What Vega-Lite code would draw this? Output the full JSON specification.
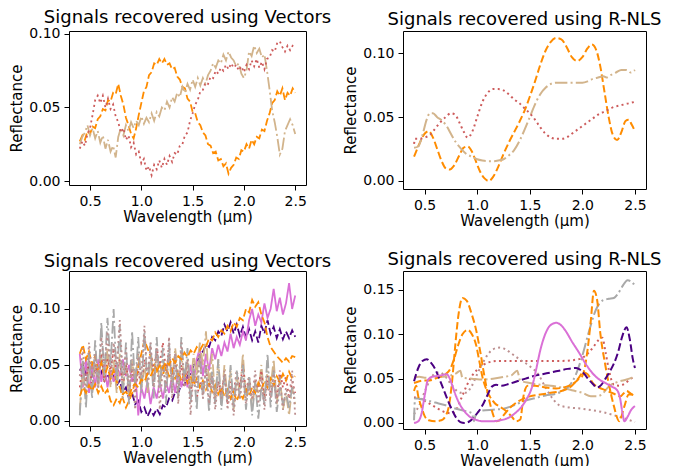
{
"$schema": "https://vega.github.io/schema/vega-lite/v6.json",
"padding": {"left": 9, "top": 8, "right": 5, "bottom": 5},
"columns": 2,
"spacing": {"row": 82, "column": 97},
"bounds": "flush",
"resolve": {"scale": {"x": "independent", "y": "independent", "color": "independent", "strokeDash": "independent"}},
"config": {
  "view": {"stroke": "black", "strokeWidth": 1},
  "font": "DejaVu Sans",
  "axis": {"domain": false, "grid": false, "tickColor": "black", "tickSize": 5, "tickWidth": 1, "labelFont": "DejaVu Sans", "labelFontSize": 14, "labelColor": "black", "labelPadding": 4, "labelFlush": false, "labelOverlap": false, "titleFont": "DejaVu Sans", "titleFontSize": 15, "titleFontWeight": "normal", "titleColor": "black"},
  "axisX": {"titlePadding": 1},
  "axisY": {"titlePadding": 4},
  "title": {"font": "DejaVu Sans", "fontSize": 18, "fontWeight": "normal", "color": "black", "anchor": "middle", "baseline": "alphabetic"}
},
"datasets": {
"tl": [
{"s":"o","x":0.4,"y":0.027},{"s":"o","x":0.425,"y":0.031},{"s":"o","x":0.45,"y":0.028},{"s":"o","x":0.475,"y":0.034},{"s":"o","x":0.5,"y":0.032},{"s":"o","x":0.525,"y":0.037},{"s":"o","x":0.55,"y":0.036},{"s":"o","x":0.575,"y":0.042},{"s":"o","x":0.6,"y":0.044},{"s":"o","x":0.625,"y":0.049},{"s":"o","x":0.65,"y":0.048},{"s":"o","x":0.675,"y":0.055},{"s":"o","x":0.7,"y":0.054},{"s":"o","x":0.725,"y":0.06},{"s":"o","x":0.75,"y":0.059},{"s":"o","x":0.775,"y":0.066},{"s":"o","x":0.8,"y":0.058},{"s":"o","x":0.825,"y":0.052},{"s":"o","x":0.85,"y":0.043},{"s":"o","x":0.875,"y":0.038},{"s":"o","x":0.9,"y":0.032},{"s":"o","x":0.925,"y":0.029},{"s":"o","x":0.95,"y":0.036},{"s":"o","x":0.975,"y":0.045},{"s":"o","x":1.0,"y":0.053},{"s":"o","x":1.025,"y":0.061},{"s":"o","x":1.05,"y":0.064},{"s":"o","x":1.075,"y":0.072},{"s":"o","x":1.1,"y":0.074},{"s":"o","x":1.125,"y":0.08},{"s":"o","x":1.15,"y":0.079},{"s":"o","x":1.175,"y":0.083},{"s":"o","x":1.2,"y":0.08},{"s":"o","x":1.225,"y":0.083},{"s":"o","x":1.25,"y":0.079},{"s":"o","x":1.275,"y":0.08},{"s":"o","x":1.3,"y":0.076},{"s":"o","x":1.325,"y":0.077},{"s":"o","x":1.35,"y":0.071},{"s":"o","x":1.375,"y":0.069},{"s":"o","x":1.4,"y":0.064},{"s":"o","x":1.425,"y":0.063},{"s":"o","x":1.45,"y":0.056},{"s":"o","x":1.475,"y":0.054},{"s":"o","x":1.5,"y":0.047},{"s":"o","x":1.525,"y":0.046},{"s":"o","x":1.55,"y":0.04},{"s":"o","x":1.575,"y":0.038},{"s":"o","x":1.6,"y":0.033},{"s":"o","x":1.625,"y":0.031},{"s":"o","x":1.65,"y":0.025},{"s":"o","x":1.675,"y":0.024},{"s":"o","x":1.7,"y":0.019},{"s":"o","x":1.725,"y":0.02},{"s":"o","x":1.75,"y":0.014},{"s":"o","x":1.775,"y":0.015},{"s":"o","x":1.8,"y":0.01},{"s":"o","x":1.825,"y":0.012},{"s":"o","x":1.85,"y":0.005},{"s":"o","x":1.875,"y":0.009},{"s":"o","x":1.9,"y":0.011},{"s":"o","x":1.925,"y":0.016},{"s":"o","x":1.95,"y":0.015},{"s":"o","x":1.975,"y":0.021},{"s":"o","x":2.0,"y":0.02},{"s":"o","x":2.025,"y":0.025},{"s":"o","x":2.05,"y":0.022},{"s":"o","x":2.075,"y":0.028},{"s":"o","x":2.1,"y":0.025},{"s":"o","x":2.125,"y":0.03},{"s":"o","x":2.15,"y":0.029},{"s":"o","x":2.175,"y":0.035},{"s":"o","x":2.2,"y":0.034},{"s":"o","x":2.225,"y":0.041},{"s":"o","x":2.25,"y":0.046},{"s":"o","x":2.275,"y":0.053},{"s":"o","x":2.3,"y":0.055},{"s":"o","x":2.325,"y":0.061},{"s":"o","x":2.35,"y":0.058},{"s":"o","x":2.375,"y":0.063},{"s":"o","x":2.4,"y":0.055},{"s":"o","x":2.425,"y":0.06},{"s":"o","x":2.45,"y":0.058},{"s":"o","x":2.475,"y":0.063},{"s":"o","x":2.5,"y":0.06},
{"s":"t","x":0.4,"y":0.025},{"s":"t","x":0.425,"y":0.03},{"s":"t","x":0.45,"y":0.033},{"s":"t","x":0.475,"y":0.038},{"s":"t","x":0.5,"y":0.031},{"s":"t","x":0.525,"y":0.036},{"s":"t","x":0.55,"y":0.029},{"s":"t","x":0.575,"y":0.034},{"s":"t","x":0.6,"y":0.026},{"s":"t","x":0.625,"y":0.031},{"s":"t","x":0.65,"y":0.022},{"s":"t","x":0.675,"y":0.028},{"s":"t","x":0.7,"y":0.02},{"s":"t","x":0.725,"y":0.024},{"s":"t","x":0.75,"y":0.016},{"s":"t","x":0.775,"y":0.03},{"s":"t","x":0.8,"y":0.036},{"s":"t","x":0.825,"y":0.031},{"s":"t","x":0.85,"y":0.038},{"s":"t","x":0.875,"y":0.034},{"s":"t","x":0.9,"y":0.04},{"s":"t","x":0.925,"y":0.036},{"s":"t","x":0.95,"y":0.041},{"s":"t","x":0.975,"y":0.038},{"s":"t","x":1.0,"y":0.044},{"s":"t","x":1.025,"y":0.039},{"s":"t","x":1.05,"y":0.043},{"s":"t","x":1.075,"y":0.04},{"s":"t","x":1.1,"y":0.046},{"s":"t","x":1.125,"y":0.041},{"s":"t","x":1.15,"y":0.047},{"s":"t","x":1.175,"y":0.044},{"s":"t","x":1.2,"y":0.05},{"s":"t","x":1.225,"y":0.048},{"s":"t","x":1.25,"y":0.054},{"s":"t","x":1.275,"y":0.05},{"s":"t","x":1.3,"y":0.057},{"s":"t","x":1.325,"y":0.054},{"s":"t","x":1.35,"y":0.06},{"s":"t","x":1.375,"y":0.057},{"s":"t","x":1.4,"y":0.064},{"s":"t","x":1.425,"y":0.06},{"s":"t","x":1.45,"y":0.066},{"s":"t","x":1.475,"y":0.062},{"s":"t","x":1.5,"y":0.069},{"s":"t","x":1.525,"y":0.064},{"s":"t","x":1.55,"y":0.07},{"s":"t","x":1.575,"y":0.065},{"s":"t","x":1.6,"y":0.07},{"s":"t","x":1.625,"y":0.066},{"s":"t","x":1.65,"y":0.072},{"s":"t","x":1.675,"y":0.075},{"s":"t","x":1.7,"y":0.08},{"s":"t","x":1.725,"y":0.077},{"s":"t","x":1.75,"y":0.082},{"s":"t","x":1.775,"y":0.08},{"s":"t","x":1.8,"y":0.086},{"s":"t","x":1.825,"y":0.082},{"s":"t","x":1.85,"y":0.088},{"s":"t","x":1.875,"y":0.084},{"s":"t","x":1.9,"y":0.082},{"s":"t","x":1.925,"y":0.078},{"s":"t","x":1.95,"y":0.08},{"s":"t","x":1.975,"y":0.073},{"s":"t","x":2.0,"y":0.07},{"s":"t","x":2.025,"y":0.075},{"s":"t","x":2.05,"y":0.088},{"s":"t","x":2.075,"y":0.085},{"s":"t","x":2.1,"y":0.092},{"s":"t","x":2.125,"y":0.087},{"s":"t","x":2.15,"y":0.09},{"s":"t","x":2.175,"y":0.084},{"s":"t","x":2.2,"y":0.086},{"s":"t","x":2.225,"y":0.075},{"s":"t","x":2.25,"y":0.062},{"s":"t","x":2.275,"y":0.048},{"s":"t","x":2.3,"y":0.04},{"s":"t","x":2.325,"y":0.03},{"s":"t","x":2.35,"y":0.018},{"s":"t","x":2.375,"y":0.022},{"s":"t","x":2.4,"y":0.034},{"s":"t","x":2.425,"y":0.038},{"s":"t","x":2.45,"y":0.042},{"s":"t","x":2.475,"y":0.038},{"s":"t","x":2.5,"y":0.032},
{"s":"r","x":0.4,"y":0.022},{"s":"r","x":0.425,"y":0.027},{"s":"r","x":0.45,"y":0.024},{"s":"r","x":0.475,"y":0.032},{"s":"r","x":0.5,"y":0.036},{"s":"r","x":0.525,"y":0.045},{"s":"r","x":0.55,"y":0.055},{"s":"r","x":0.575,"y":0.058},{"s":"r","x":0.6,"y":0.053},{"s":"r","x":0.625,"y":0.058},{"s":"r","x":0.65,"y":0.05},{"s":"r","x":0.675,"y":0.056},{"s":"r","x":0.7,"y":0.049},{"s":"r","x":0.725,"y":0.052},{"s":"r","x":0.75,"y":0.044},{"s":"r","x":0.775,"y":0.04},{"s":"r","x":0.8,"y":0.033},{"s":"r","x":0.825,"y":0.036},{"s":"r","x":0.85,"y":0.028},{"s":"r","x":0.875,"y":0.031},{"s":"r","x":0.9,"y":0.023},{"s":"r","x":0.925,"y":0.026},{"s":"r","x":0.95,"y":0.018},{"s":"r","x":0.975,"y":0.02},{"s":"r","x":1.0,"y":0.012},{"s":"r","x":1.025,"y":0.015},{"s":"r","x":1.05,"y":0.007},{"s":"r","x":1.075,"y":0.01},{"s":"r","x":1.1,"y":0.004},{"s":"r","x":1.125,"y":0.011},{"s":"r","x":1.15,"y":0.008},{"s":"r","x":1.175,"y":0.014},{"s":"r","x":1.2,"y":0.009},{"s":"r","x":1.225,"y":0.015},{"s":"r","x":1.25,"y":0.011},{"s":"r","x":1.275,"y":0.017},{"s":"r","x":1.3,"y":0.013},{"s":"r","x":1.325,"y":0.019},{"s":"r","x":1.35,"y":0.018},{"s":"r","x":1.375,"y":0.024},{"s":"r","x":1.4,"y":0.025},{"s":"r","x":1.425,"y":0.031},{"s":"r","x":1.45,"y":0.033},{"s":"r","x":1.475,"y":0.041},{"s":"r","x":1.5,"y":0.046},{"s":"r","x":1.525,"y":0.052},{"s":"r","x":1.55,"y":0.055},{"s":"r","x":1.575,"y":0.061},{"s":"r","x":1.6,"y":0.062},{"s":"r","x":1.625,"y":0.067},{"s":"r","x":1.65,"y":0.066},{"s":"r","x":1.675,"y":0.071},{"s":"r","x":1.7,"y":0.07},{"s":"r","x":1.725,"y":0.075},{"s":"r","x":1.75,"y":0.073},{"s":"r","x":1.775,"y":0.077},{"s":"r","x":1.8,"y":0.075},{"s":"r","x":1.825,"y":0.079},{"s":"r","x":1.85,"y":0.076},{"s":"r","x":1.875,"y":0.08},{"s":"r","x":1.9,"y":0.077},{"s":"r","x":1.925,"y":0.079},{"s":"r","x":1.95,"y":0.075},{"s":"r","x":1.975,"y":0.078},{"s":"r","x":2.0,"y":0.074},{"s":"r","x":2.025,"y":0.079},{"s":"r","x":2.05,"y":0.076},{"s":"r","x":2.075,"y":0.082},{"s":"r","x":2.1,"y":0.078},{"s":"r","x":2.125,"y":0.083},{"s":"r","x":2.15,"y":0.077},{"s":"r","x":2.175,"y":0.081},{"s":"r","x":2.2,"y":0.076},{"s":"r","x":2.225,"y":0.083},{"s":"r","x":2.25,"y":0.084},{"s":"r","x":2.275,"y":0.089},{"s":"r","x":2.3,"y":0.088},{"s":"r","x":2.325,"y":0.094},{"s":"r","x":2.35,"y":0.095},{"s":"r","x":2.375,"y":0.091},{"s":"r","x":2.4,"y":0.088},{"s":"r","x":2.425,"y":0.092},{"s":"r","x":2.45,"y":0.089},{"s":"r","x":2.475,"y":0.092},{"s":"r","x":2.5,"y":0.091}
],
"tr": [
{"s":"o","x":0.4,"y":0.019},{"s":"o","x":0.45,"y":0.029},{"s":"o","x":0.5,"y":0.037},{"s":"o","x":0.54,"y":0.039},{"s":"o","x":0.58,"y":0.034},{"s":"o","x":0.62,"y":0.025},{"s":"o","x":0.66,"y":0.016},{"s":"o","x":0.7,"y":0.01},{"s":"o","x":0.74,"y":0.009},{"s":"o","x":0.78,"y":0.012},{"s":"o","x":0.83,"y":0.02},{"s":"o","x":0.87,"y":0.026},{"s":"o","x":0.91,"y":0.027},{"s":"o","x":0.95,"y":0.023},{"s":"o","x":0.99,"y":0.015},{"s":"o","x":1.03,"y":0.007},{"s":"o","x":1.07,"y":0.002},{"s":"o","x":1.11,"y":0.0},{"s":"o","x":1.15,"y":0.003},{"s":"o","x":1.2,"y":0.011},{"s":"o","x":1.25,"y":0.021},{"s":"o","x":1.3,"y":0.03},{"s":"o","x":1.35,"y":0.038},{"s":"o","x":1.4,"y":0.046},{"s":"o","x":1.45,"y":0.055},{"s":"o","x":1.5,"y":0.066},{"s":"o","x":1.55,"y":0.078},{"s":"o","x":1.6,"y":0.091},{"s":"o","x":1.65,"y":0.102},{"s":"o","x":1.7,"y":0.109},{"s":"o","x":1.75,"y":0.112},{"s":"o","x":1.8,"y":0.111},{"s":"o","x":1.85,"y":0.105},{"s":"o","x":1.9,"y":0.097},{"s":"o","x":1.95,"y":0.094},{"s":"o","x":2.0,"y":0.097},{"s":"o","x":2.05,"y":0.104},{"s":"o","x":2.09,"y":0.107},{"s":"o","x":2.13,"y":0.103},{"s":"o","x":2.17,"y":0.09},{"s":"o","x":2.21,"y":0.07},{"s":"o","x":2.25,"y":0.05},{"s":"o","x":2.29,"y":0.036},{"s":"o","x":2.33,"y":0.032},{"s":"o","x":2.37,"y":0.038},{"s":"o","x":2.41,"y":0.047},{"s":"o","x":2.44,"y":0.048},{"s":"o","x":2.47,"y":0.044},{"s":"o","x":2.5,"y":0.039},
{"s":"t","x":0.4,"y":0.026},{"s":"t","x":0.44,"y":0.027},{"s":"t","x":0.48,"y":0.036},{"s":"t","x":0.52,"y":0.048},{"s":"t","x":0.55,"y":0.053},{"s":"t","x":0.58,"y":0.053},{"s":"t","x":0.62,"y":0.05},{"s":"t","x":0.67,"y":0.047},{"s":"t","x":0.71,"y":0.043},{"s":"t","x":0.75,"y":0.037},{"s":"t","x":0.8,"y":0.03},{"s":"t","x":0.85,"y":0.025},{"s":"t","x":0.9,"y":0.021},{"s":"t","x":0.95,"y":0.019},{"s":"t","x":1.0,"y":0.017},{"s":"t","x":1.05,"y":0.016},{"s":"t","x":1.1,"y":0.0155},{"s":"t","x":1.15,"y":0.0155},{"s":"t","x":1.2,"y":0.016},{"s":"t","x":1.25,"y":0.017},{"s":"t","x":1.3,"y":0.02},{"s":"t","x":1.35,"y":0.024},{"s":"t","x":1.4,"y":0.031},{"s":"t","x":1.45,"y":0.04},{"s":"t","x":1.5,"y":0.05},{"s":"t","x":1.55,"y":0.06},{"s":"t","x":1.6,"y":0.068},{"s":"t","x":1.65,"y":0.073},{"s":"t","x":1.7,"y":0.076},{"s":"t","x":1.75,"y":0.077},{"s":"t","x":1.85,"y":0.077},{"s":"t","x":1.95,"y":0.077},{"s":"t","x":2.0,"y":0.077},{"s":"t","x":2.05,"y":0.078},{"s":"t","x":2.1,"y":0.08},{"s":"t","x":2.15,"y":0.081},{"s":"t","x":2.2,"y":0.082},{"s":"t","x":2.23,"y":0.081},{"s":"t","x":2.27,"y":0.083},{"s":"t","x":2.32,"y":0.085},{"s":"t","x":2.37,"y":0.087},{"s":"t","x":2.42,"y":0.087},{"s":"t","x":2.46,"y":0.085},{"s":"t","x":2.5,"y":0.087},
{"s":"r","x":0.4,"y":0.029},{"s":"r","x":0.41,"y":0.033},{"s":"r","x":0.45,"y":0.033},{"s":"r","x":0.5,"y":0.034},{"s":"r","x":0.55,"y":0.036},{"s":"r","x":0.6,"y":0.041},{"s":"r","x":0.65,"y":0.046},{"s":"r","x":0.7,"y":0.05},{"s":"r","x":0.75,"y":0.053},{"s":"r","x":0.79,"y":0.052},{"s":"r","x":0.83,"y":0.046},{"s":"r","x":0.87,"y":0.039},{"s":"r","x":0.91,"y":0.034},{"s":"r","x":0.95,"y":0.038},{"s":"r","x":1.0,"y":0.05},{"s":"r","x":1.05,"y":0.062},{"s":"r","x":1.1,"y":0.069},{"s":"r","x":1.15,"y":0.072},{"s":"r","x":1.2,"y":0.072},{"s":"r","x":1.25,"y":0.071},{"s":"r","x":1.3,"y":0.068},{"s":"r","x":1.35,"y":0.064},{"s":"r","x":1.4,"y":0.061},{"s":"r","x":1.45,"y":0.057},{"s":"r","x":1.5,"y":0.053},{"s":"r","x":1.55,"y":0.048},{"s":"r","x":1.6,"y":0.042},{"s":"r","x":1.65,"y":0.037},{"s":"r","x":1.7,"y":0.034},{"s":"r","x":1.75,"y":0.033},{"s":"r","x":1.8,"y":0.033},{"s":"r","x":1.85,"y":0.034},{"s":"r","x":1.9,"y":0.037},{"s":"r","x":1.95,"y":0.04},{"s":"r","x":2.0,"y":0.043},{"s":"r","x":2.05,"y":0.046},{"s":"r","x":2.1,"y":0.049},{"s":"r","x":2.15,"y":0.052},{"s":"r","x":2.2,"y":0.054},{"s":"r","x":2.25,"y":0.056},{"s":"r","x":2.3,"y":0.058},{"s":"r","x":2.35,"y":0.059},{"s":"r","x":2.4,"y":0.06},{"s":"r","x":2.45,"y":0.061},{"s":"r","x":2.5,"y":0.062}
],
"bl": [
{"s":"i","x":0.4,"y":0.045},{"s":"i","x":0.43,"y":0.05},{"s":"i","x":0.46,"y":0.042},{"s":"i","x":0.49,"y":0.048},{"s":"i","x":0.52,"y":0.04},{"s":"i","x":0.55,"y":0.046},{"s":"i","x":0.58,"y":0.038},{"s":"i","x":0.61,"y":0.044},{"s":"i","x":0.64,"y":0.036},{"s":"i","x":0.67,"y":0.042},{"s":"i","x":0.7,"y":0.035},{"s":"i","x":0.73,"y":0.04},{"s":"i","x":0.76,"y":0.032},{"s":"i","x":0.79,"y":0.036},{"s":"i","x":0.82,"y":0.026},{"s":"i","x":0.85,"y":0.03},{"s":"i","x":0.88,"y":0.02},{"s":"i","x":0.91,"y":0.025},{"s":"i","x":0.94,"y":0.015},{"s":"i","x":0.97,"y":0.018},{"s":"i","x":1.0,"y":0.008},{"s":"i","x":1.03,"y":0.012},{"s":"i","x":1.06,"y":0.004},{"s":"i","x":1.09,"y":0.01},{"s":"i","x":1.12,"y":0.005},{"s":"i","x":1.15,"y":0.011},{"s":"i","x":1.18,"y":0.006},{"s":"i","x":1.21,"y":0.014},{"s":"i","x":1.24,"y":0.012},{"s":"i","x":1.27,"y":0.02},{"s":"i","x":1.3,"y":0.018},{"s":"i","x":1.33,"y":0.026},{"s":"i","x":1.36,"y":0.025},{"s":"i","x":1.39,"y":0.033},{"s":"i","x":1.42,"y":0.032},{"s":"i","x":1.45,"y":0.04},{"s":"i","x":1.48,"y":0.042},{"s":"i","x":1.51,"y":0.05},{"s":"i","x":1.54,"y":0.052},{"s":"i","x":1.57,"y":0.06},{"s":"i","x":1.6,"y":0.062},{"s":"i","x":1.63,"y":0.068},{"s":"i","x":1.66,"y":0.066},{"s":"i","x":1.69,"y":0.075},{"s":"i","x":1.72,"y":0.072},{"s":"i","x":1.75,"y":0.08},{"s":"i","x":1.78,"y":0.076},{"s":"i","x":1.81,"y":0.086},{"s":"i","x":1.84,"y":0.08},{"s":"i","x":1.87,"y":0.088},{"s":"i","x":1.9,"y":0.078},{"s":"i","x":1.93,"y":0.086},{"s":"i","x":1.96,"y":0.076},{"s":"i","x":1.99,"y":0.084},{"s":"i","x":2.02,"y":0.074},{"s":"i","x":2.05,"y":0.082},{"s":"i","x":2.08,"y":0.072},{"s":"i","x":2.11,"y":0.08},{"s":"i","x":2.14,"y":0.07},{"s":"i","x":2.17,"y":0.085},{"s":"i","x":2.2,"y":0.078},{"s":"i","x":2.23,"y":0.09},{"s":"i","x":2.26,"y":0.078},{"s":"i","x":2.29,"y":0.084},{"s":"i","x":2.32,"y":0.074},{"s":"i","x":2.35,"y":0.082},{"s":"i","x":2.38,"y":0.073},{"s":"i","x":2.41,"y":0.08},{"s":"i","x":2.44,"y":0.074},{"s":"i","x":2.47,"y":0.081},{"s":"i","x":2.5,"y":0.075},
{"s":"m","x":0.4,"y":0.06},{"s":"m","x":0.43,"y":0.03},{"s":"m","x":0.46,"y":0.055},{"s":"m","x":0.49,"y":0.025},{"s":"m","x":0.52,"y":0.05},{"s":"m","x":0.55,"y":0.03},{"s":"m","x":0.58,"y":0.055},{"s":"m","x":0.61,"y":0.035},{"s":"m","x":0.64,"y":0.05},{"s":"m","x":0.67,"y":0.03},{"s":"m","x":0.7,"y":0.045},{"s":"m","x":0.73,"y":0.035},{"s":"m","x":0.76,"y":0.05},{"s":"m","x":0.79,"y":0.04},{"s":"m","x":0.82,"y":0.055},{"s":"m","x":0.85,"y":0.04},{"s":"m","x":0.88,"y":0.05},{"s":"m","x":0.91,"y":0.035},{"s":"m","x":0.94,"y":0.045},{"s":"m","x":0.97,"y":0.005},{"s":"m","x":1.0,"y":0.03},{"s":"m","x":1.03,"y":0.02},{"s":"m","x":1.06,"y":0.035},{"s":"m","x":1.09,"y":0.015},{"s":"m","x":1.12,"y":0.03},{"s":"m","x":1.15,"y":0.02},{"s":"m","x":1.18,"y":0.035},{"s":"m","x":1.21,"y":0.02},{"s":"m","x":1.24,"y":0.035},{"s":"m","x":1.27,"y":0.025},{"s":"m","x":1.3,"y":0.04},{"s":"m","x":1.33,"y":0.025},{"s":"m","x":1.36,"y":0.045},{"s":"m","x":1.39,"y":0.03},{"s":"m","x":1.42,"y":0.045},{"s":"m","x":1.45,"y":0.03},{"s":"m","x":1.48,"y":0.05},{"s":"m","x":1.51,"y":0.035},{"s":"m","x":1.54,"y":0.055},{"s":"m","x":1.57,"y":0.065},{"s":"m","x":1.6,"y":0.04},{"s":"m","x":1.63,"y":0.06},{"s":"m","x":1.66,"y":0.045},{"s":"m","x":1.69,"y":0.065},{"s":"m","x":1.72,"y":0.055},{"s":"m","x":1.75,"y":0.068},{"s":"m","x":1.78,"y":0.058},{"s":"m","x":1.81,"y":0.07},{"s":"m","x":1.84,"y":0.062},{"s":"m","x":1.87,"y":0.078},{"s":"m","x":1.9,"y":0.065},{"s":"m","x":1.93,"y":0.075},{"s":"m","x":1.96,"y":0.068},{"s":"m","x":1.99,"y":0.08},{"s":"m","x":2.02,"y":0.072},{"s":"m","x":2.05,"y":0.09},{"s":"m","x":2.08,"y":0.1},{"s":"m","x":2.11,"y":0.085},{"s":"m","x":2.14,"y":0.095},{"s":"m","x":2.17,"y":0.088},{"s":"m","x":2.2,"y":0.105},{"s":"m","x":2.23,"y":0.092},{"s":"m","x":2.26,"y":0.1},{"s":"m","x":2.29,"y":0.118},{"s":"m","x":2.32,"y":0.098},{"s":"m","x":2.35,"y":0.11},{"s":"m","x":2.38,"y":0.095},{"s":"m","x":2.41,"y":0.105},{"s":"m","x":2.44,"y":0.123},{"s":"m","x":2.47,"y":0.1},{"s":"m","x":2.5,"y":0.112},
{"s":"t","x":0.4,"y":0.01},{"s":"t","x":0.43,"y":0.045},{"s":"t","x":0.46,"y":0.02},{"s":"t","x":0.49,"y":0.05},{"s":"t","x":0.52,"y":0.025},{"s":"t","x":0.55,"y":0.055},{"s":"t","x":0.58,"y":0.03},{"s":"t","x":0.61,"y":0.06},{"s":"t","x":0.64,"y":0.035},{"s":"t","x":0.67,"y":0.065},{"s":"t","x":0.7,"y":0.03},{"s":"t","x":0.73,"y":0.055},{"s":"t","x":0.76,"y":0.025},{"s":"t","x":0.79,"y":0.06},{"s":"t","x":0.82,"y":0.03},{"s":"t","x":0.85,"y":0.05},{"s":"t","x":0.88,"y":0.02},{"s":"t","x":0.91,"y":0.055},{"s":"t","x":0.94,"y":0.035},{"s":"t","x":0.97,"y":0.06},{"s":"t","x":1.0,"y":0.03},{"s":"t","x":1.03,"y":0.05},{"s":"t","x":1.06,"y":0.025},{"s":"t","x":1.09,"y":0.055},{"s":"t","x":1.12,"y":0.035},{"s":"t","x":1.15,"y":0.06},{"s":"t","x":1.18,"y":0.03},{"s":"t","x":1.21,"y":0.055},{"s":"t","x":1.24,"y":0.04},{"s":"t","x":1.27,"y":0.06},{"s":"t","x":1.3,"y":0.035},{"s":"t","x":1.33,"y":0.065},{"s":"t","x":1.36,"y":0.04},{"s":"t","x":1.39,"y":0.06},{"s":"t","x":1.42,"y":0.035},{"s":"t","x":1.45,"y":0.055},{"s":"t","x":1.48,"y":0.03},{"s":"t","x":1.51,"y":0.06},{"s":"t","x":1.54,"y":0.04},{"s":"t","x":1.57,"y":0.07},{"s":"t","x":1.6,"y":0.05},{"s":"t","x":1.63,"y":0.08},{"s":"t","x":1.66,"y":0.03},{"s":"t","x":1.69,"y":0.06},{"s":"t","x":1.72,"y":0.02},{"s":"t","x":1.75,"y":0.055},{"s":"t","x":1.78,"y":0.015},{"s":"t","x":1.81,"y":0.05},{"s":"t","x":1.84,"y":0.02},{"s":"t","x":1.87,"y":0.045},{"s":"t","x":1.9,"y":0.01},{"s":"t","x":1.93,"y":0.04},{"s":"t","x":1.96,"y":0.025},{"s":"t","x":1.99,"y":0.06},{"s":"t","x":2.02,"y":0.02},{"s":"t","x":2.05,"y":0.04},{"s":"t","x":2.08,"y":0.01},{"s":"t","x":2.11,"y":0.035},{"s":"t","x":2.14,"y":0.025},{"s":"t","x":2.17,"y":0.05},{"s":"t","x":2.2,"y":0.02},{"s":"t","x":2.23,"y":0.045},{"s":"t","x":2.26,"y":0.03},{"s":"t","x":2.29,"y":0.055},{"s":"t","x":2.32,"y":0.015},{"s":"t","x":2.35,"y":0.04},{"s":"t","x":2.38,"y":0.01},{"s":"t","x":2.41,"y":0.025},{"s":"t","x":2.44,"y":0.005},{"s":"t","x":2.47,"y":0.03},{"s":"t","x":2.5,"y":0.015},
{"s":"r","x":0.4,"y":0.03},{"s":"r","x":0.43,"y":0.05},{"s":"r","x":0.46,"y":0.035},{"s":"r","x":0.49,"y":0.055},{"s":"r","x":0.52,"y":0.03},{"s":"r","x":0.55,"y":0.05},{"s":"r","x":0.58,"y":0.04},{"s":"r","x":0.61,"y":0.06},{"s":"r","x":0.64,"y":0.035},{"s":"r","x":0.67,"y":0.055},{"s":"r","x":0.7,"y":0.045},{"s":"r","x":0.73,"y":0.065},{"s":"r","x":0.76,"y":0.04},{"s":"r","x":0.79,"y":0.055},{"s":"r","x":0.82,"y":0.03},{"s":"r","x":0.85,"y":0.05},{"s":"r","x":0.88,"y":0.035},{"s":"r","x":0.91,"y":0.045},{"s":"r","x":0.94,"y":0.025},{"s":"r","x":0.97,"y":0.045},{"s":"r","x":1.0,"y":0.03},{"s":"r","x":1.03,"y":0.055},{"s":"r","x":1.06,"y":0.04},{"s":"r","x":1.09,"y":0.06},{"s":"r","x":1.12,"y":0.045},{"s":"r","x":1.15,"y":0.065},{"s":"r","x":1.18,"y":0.05},{"s":"r","x":1.21,"y":0.07},{"s":"r","x":1.24,"y":0.045},{"s":"r","x":1.27,"y":0.06},{"s":"r","x":1.3,"y":0.04},{"s":"r","x":1.33,"y":0.055},{"s":"r","x":1.36,"y":0.035},{"s":"r","x":1.39,"y":0.05},{"s":"r","x":1.42,"y":0.03},{"s":"r","x":1.45,"y":0.045},{"s":"r","x":1.48,"y":0.025},{"s":"r","x":1.51,"y":0.04},{"s":"r","x":1.54,"y":0.02},{"s":"r","x":1.57,"y":0.035},{"s":"r","x":1.6,"y":0.025},{"s":"r","x":1.63,"y":0.045},{"s":"r","x":1.66,"y":0.03},{"s":"r","x":1.69,"y":0.04},{"s":"r","x":1.72,"y":0.02},{"s":"r","x":1.75,"y":0.035},{"s":"r","x":1.78,"y":0.025},{"s":"r","x":1.81,"y":0.04},{"s":"r","x":1.84,"y":0.015},{"s":"r","x":1.87,"y":0.035},{"s":"r","x":1.9,"y":0.025},{"s":"r","x":1.93,"y":0.045},{"s":"r","x":1.96,"y":0.03},{"s":"r","x":1.99,"y":0.05},{"s":"r","x":2.02,"y":0.025},{"s":"r","x":2.05,"y":0.04},{"s":"r","x":2.08,"y":0.02},{"s":"r","x":2.11,"y":0.035},{"s":"r","x":2.14,"y":0.03},{"s":"r","x":2.17,"y":0.045},{"s":"r","x":2.2,"y":0.02},{"s":"r","x":2.23,"y":0.04},{"s":"r","x":2.26,"y":0.025},{"s":"r","x":2.29,"y":0.035},{"s":"r","x":2.32,"y":0.02},{"s":"r","x":2.35,"y":0.045},{"s":"r","x":2.38,"y":0.03},{"s":"r","x":2.41,"y":0.04},{"s":"r","x":2.44,"y":0.02},{"s":"r","x":2.47,"y":0.035},{"s":"r","x":2.5,"y":0.025},
{"s":"o2","x":0.4,"y":0.06},{"s":"o2","x":0.43,"y":0.068},{"s":"o2","x":0.46,"y":0.055},{"s":"o2","x":0.49,"y":0.062},{"s":"o2","x":0.52,"y":0.05},{"s":"o2","x":0.55,"y":0.058},{"s":"o2","x":0.58,"y":0.045},{"s":"o2","x":0.61,"y":0.052},{"s":"o2","x":0.64,"y":0.04},{"s":"o2","x":0.67,"y":0.048},{"s":"o2","x":0.7,"y":0.038},{"s":"o2","x":0.73,"y":0.045},{"s":"o2","x":0.76,"y":0.035},{"s":"o2","x":0.79,"y":0.03},{"s":"o2","x":0.82,"y":0.02},{"s":"o2","x":0.85,"y":0.012},{"s":"o2","x":0.88,"y":0.018},{"s":"o2","x":0.91,"y":0.025},{"s":"o2","x":0.94,"y":0.035},{"s":"o2","x":0.97,"y":0.048},{"s":"o2","x":1.0,"y":0.06},{"s":"o2","x":1.03,"y":0.072},{"s":"o2","x":1.06,"y":0.065},{"s":"o2","x":1.09,"y":0.058},{"s":"o2","x":1.12,"y":0.052},{"s":"o2","x":1.15,"y":0.046},{"s":"o2","x":1.18,"y":0.05},{"s":"o2","x":1.21,"y":0.042},{"s":"o2","x":1.24,"y":0.048},{"s":"o2","x":1.27,"y":0.04},{"s":"o2","x":1.3,"y":0.046},{"s":"o2","x":1.33,"y":0.038},{"s":"o2","x":1.36,"y":0.044},{"s":"o2","x":1.39,"y":0.036},{"s":"o2","x":1.42,"y":0.042},{"s":"o2","x":1.45,"y":0.034},{"s":"o2","x":1.48,"y":0.04},{"s":"o2","x":1.51,"y":0.032},{"s":"o2","x":1.54,"y":0.038},{"s":"o2","x":1.57,"y":0.03},{"s":"o2","x":1.6,"y":0.036},{"s":"o2","x":1.63,"y":0.028},{"s":"o2","x":1.66,"y":0.034},{"s":"o2","x":1.69,"y":0.026},{"s":"o2","x":1.72,"y":0.032},{"s":"o2","x":1.75,"y":0.024},{"s":"o2","x":1.78,"y":0.03},{"s":"o2","x":1.81,"y":0.022},{"s":"o2","x":1.84,"y":0.028},{"s":"o2","x":1.87,"y":0.02},{"s":"o2","x":1.9,"y":0.026},{"s":"o2","x":1.93,"y":0.018},{"s":"o2","x":1.96,"y":0.025},{"s":"o2","x":1.99,"y":0.02},{"s":"o2","x":2.02,"y":0.028},{"s":"o2","x":2.05,"y":0.022},{"s":"o2","x":2.08,"y":0.03},{"s":"o2","x":2.11,"y":0.025},{"s":"o2","x":2.14,"y":0.034},{"s":"o2","x":2.17,"y":0.028},{"s":"o2","x":2.2,"y":0.036},{"s":"o2","x":2.23,"y":0.03},{"s":"o2","x":2.26,"y":0.038},{"s":"o2","x":2.29,"y":0.032},{"s":"o2","x":2.32,"y":0.04},{"s":"o2","x":2.35,"y":0.035},{"s":"o2","x":2.38,"y":0.042},{"s":"o2","x":2.41,"y":0.036},{"s":"o2","x":2.44,"y":0.044},{"s":"o2","x":2.47,"y":0.038},{"s":"o2","x":2.5,"y":0.04},
{"s":"g","x":0.4,"y":0.005},{"s":"g","x":0.43,"y":0.055},{"s":"g","x":0.46,"y":0.012},{"s":"g","x":0.49,"y":0.06},{"s":"g","x":0.52,"y":0.02},{"s":"g","x":0.55,"y":0.072},{"s":"g","x":0.58,"y":0.03},{"s":"g","x":0.61,"y":0.088},{"s":"g","x":0.64,"y":0.04},{"s":"g","x":0.67,"y":0.092},{"s":"g","x":0.7,"y":0.05},{"s":"g","x":0.73,"y":0.1},{"s":"g","x":0.76,"y":0.035},{"s":"g","x":0.79,"y":0.085},{"s":"g","x":0.82,"y":0.02},{"s":"g","x":0.85,"y":0.07},{"s":"g","x":0.88,"y":0.015},{"s":"g","x":0.91,"y":0.08},{"s":"g","x":0.94,"y":0.03},{"s":"g","x":0.97,"y":0.075},{"s":"g","x":1.0,"y":0.025},{"s":"g","x":1.03,"y":0.08},{"s":"g","x":1.06,"y":0.03},{"s":"g","x":1.09,"y":0.07},{"s":"g","x":1.12,"y":0.02},{"s":"g","x":1.15,"y":0.075},{"s":"g","x":1.18,"y":0.03},{"s":"g","x":1.21,"y":0.065},{"s":"g","x":1.24,"y":0.015},{"s":"g","x":1.27,"y":0.07},{"s":"g","x":1.3,"y":0.025},{"s":"g","x":1.33,"y":0.06},{"s":"g","x":1.36,"y":0.02},{"s":"g","x":1.39,"y":0.075},{"s":"g","x":1.42,"y":0.035},{"s":"g","x":1.45,"y":0.065},{"s":"g","x":1.48,"y":0.015},{"s":"g","x":1.51,"y":0.05},{"s":"g","x":1.54,"y":0.01},{"s":"g","x":1.57,"y":0.06},{"s":"g","x":1.6,"y":0.02},{"s":"g","x":1.63,"y":0.05},{"s":"g","x":1.66,"y":0.008},{"s":"g","x":1.69,"y":0.045},{"s":"g","x":1.72,"y":0.015},{"s":"g","x":1.75,"y":0.055},{"s":"g","x":1.78,"y":0.01},{"s":"g","x":1.81,"y":0.04},{"s":"g","x":1.84,"y":0.018},{"s":"g","x":1.87,"y":0.05},{"s":"g","x":1.9,"y":0.012},{"s":"g","x":1.93,"y":0.045},{"s":"g","x":1.96,"y":0.02},{"s":"g","x":1.99,"y":0.05},{"s":"g","x":2.02,"y":0.01},{"s":"g","x":2.05,"y":0.04},{"s":"g","x":2.08,"y":0.005},{"s":"g","x":2.11,"y":0.035},{"s":"g","x":2.14,"y":0.002},{"s":"g","x":2.17,"y":0.03},{"s":"g","x":2.2,"y":0.015},{"s":"g","x":2.23,"y":0.06},{"s":"g","x":2.26,"y":0.012},{"s":"g","x":2.29,"y":0.045},{"s":"g","x":2.32,"y":0.008},{"s":"g","x":2.35,"y":0.03},{"s":"g","x":2.38,"y":0.015},{"s":"g","x":2.41,"y":0.025},{"s":"g","x":2.44,"y":0.012},{"s":"g","x":2.47,"y":0.03},{"s":"g","x":2.5,"y":0.02},
{"s":"rb","x":0.4,"y":0.04},{"s":"rb","x":0.43,"y":0.065},{"s":"rb","x":0.46,"y":0.025},{"s":"rb","x":0.49,"y":0.07},{"s":"rb","x":0.52,"y":0.04},{"s":"rb","x":0.55,"y":0.06},{"s":"rb","x":0.58,"y":0.03},{"s":"rb","x":0.61,"y":0.075},{"s":"rb","x":0.64,"y":0.045},{"s":"rb","x":0.67,"y":0.08},{"s":"rb","x":0.7,"y":0.035},{"s":"rb","x":0.73,"y":0.07},{"s":"rb","x":0.76,"y":0.05},{"s":"rb","x":0.79,"y":0.09},{"s":"rb","x":0.82,"y":0.04},{"s":"rb","x":0.85,"y":0.065},{"s":"rb","x":0.88,"y":0.02},{"s":"rb","x":0.91,"y":0.055},{"s":"rb","x":0.94,"y":0.01},{"s":"rb","x":0.97,"y":0.06},{"s":"rb","x":1.0,"y":0.04},{"s":"rb","x":1.03,"y":0.085},{"s":"rb","x":1.06,"y":0.035},{"s":"rb","x":1.09,"y":0.07},{"s":"rb","x":1.12,"y":0.03},{"s":"rb","x":1.15,"y":0.065},{"s":"rb","x":1.18,"y":0.01},{"s":"rb","x":1.21,"y":0.05},{"s":"rb","x":1.24,"y":0.03},{"s":"rb","x":1.27,"y":0.075},{"s":"rb","x":1.3,"y":0.02},{"s":"rb","x":1.33,"y":0.06},{"s":"rb","x":1.36,"y":0.015},{"s":"rb","x":1.39,"y":0.07},{"s":"rb","x":1.42,"y":0.03},{"s":"rb","x":1.45,"y":0.055},{"s":"rb","x":1.48,"y":0.005},{"s":"rb","x":1.51,"y":0.045},{"s":"rb","x":1.54,"y":0.03},{"s":"rb","x":1.57,"y":0.06},{"s":"rb","x":1.6,"y":0.02},{"s":"rb","x":1.63,"y":0.05},{"s":"rb","x":1.66,"y":0.015},{"s":"rb","x":1.69,"y":0.04},{"s":"rb","x":1.72,"y":0.01},{"s":"rb","x":1.75,"y":0.035},{"s":"rb","x":1.78,"y":0.02},{"s":"rb","x":1.81,"y":0.045},{"s":"rb","x":1.84,"y":0.01},{"s":"rb","x":1.87,"y":0.03},{"s":"rb","x":1.9,"y":0.005},{"s":"rb","x":1.93,"y":0.035},{"s":"rb","x":1.96,"y":0.02},{"s":"rb","x":1.99,"y":0.04},{"s":"rb","x":2.02,"y":0.015},{"s":"rb","x":2.05,"y":0.035},{"s":"rb","x":2.08,"y":0.02},{"s":"rb","x":2.11,"y":0.045},{"s":"rb","x":2.14,"y":0.015},{"s":"rb","x":2.17,"y":0.04},{"s":"rb","x":2.2,"y":0.01},{"s":"rb","x":2.23,"y":0.035},{"s":"rb","x":2.26,"y":0.02},{"s":"rb","x":2.29,"y":0.045},{"s":"rb","x":2.32,"y":0.015},{"s":"rb","x":2.35,"y":0.04},{"s":"rb","x":2.38,"y":0.01},{"s":"rb","x":2.41,"y":0.03},{"s":"rb","x":2.44,"y":0.02},{"s":"rb","x":2.47,"y":0.045},{"s":"rb","x":2.5,"y":0.005},
{"s":"o1","x":0.4,"y":0.022},{"s":"o1","x":0.43,"y":0.03},{"s":"o1","x":0.46,"y":0.025},{"s":"o1","x":0.49,"y":0.032},{"s":"o1","x":0.52,"y":0.027},{"s":"o1","x":0.55,"y":0.033},{"s":"o1","x":0.58,"y":0.025},{"s":"o1","x":0.61,"y":0.031},{"s":"o1","x":0.64,"y":0.024},{"s":"o1","x":0.67,"y":0.028},{"s":"o1","x":0.7,"y":0.018},{"s":"o1","x":0.73,"y":0.014},{"s":"o1","x":0.76,"y":0.02},{"s":"o1","x":0.79,"y":0.016},{"s":"o1","x":0.82,"y":0.024},{"s":"o1","x":0.85,"y":0.026},{"s":"o1","x":0.88,"y":0.022},{"s":"o1","x":0.91,"y":0.03},{"s":"o1","x":0.94,"y":0.033},{"s":"o1","x":0.97,"y":0.03},{"s":"o1","x":1.0,"y":0.037},{"s":"o1","x":1.03,"y":0.035},{"s":"o1","x":1.06,"y":0.042},{"s":"o1","x":1.09,"y":0.04},{"s":"o1","x":1.12,"y":0.046},{"s":"o1","x":1.15,"y":0.044},{"s":"o1","x":1.18,"y":0.05},{"s":"o1","x":1.21,"y":0.047},{"s":"o1","x":1.24,"y":0.053},{"s":"o1","x":1.27,"y":0.05},{"s":"o1","x":1.3,"y":0.056},{"s":"o1","x":1.33,"y":0.052},{"s":"o1","x":1.36,"y":0.058},{"s":"o1","x":1.39,"y":0.055},{"s":"o1","x":1.42,"y":0.061},{"s":"o1","x":1.45,"y":0.057},{"s":"o1","x":1.48,"y":0.063},{"s":"o1","x":1.51,"y":0.06},{"s":"o1","x":1.54,"y":0.066},{"s":"o1","x":1.57,"y":0.063},{"s":"o1","x":1.6,"y":0.068},{"s":"o1","x":1.63,"y":0.066},{"s":"o1","x":1.66,"y":0.074},{"s":"o1","x":1.69,"y":0.072},{"s":"o1","x":1.72,"y":0.079},{"s":"o1","x":1.75,"y":0.075},{"s":"o1","x":1.78,"y":0.081},{"s":"o1","x":1.81,"y":0.078},{"s":"o1","x":1.84,"y":0.085},{"s":"o1","x":1.87,"y":0.08},{"s":"o1","x":1.9,"y":0.088},{"s":"o1","x":1.93,"y":0.084},{"s":"o1","x":1.96,"y":0.092},{"s":"o1","x":1.99,"y":0.09},{"s":"o1","x":2.02,"y":0.1},{"s":"o1","x":2.05,"y":0.097},{"s":"o1","x":2.08,"y":0.108},{"s":"o1","x":2.11,"y":0.102},{"s":"o1","x":2.14,"y":0.106},{"s":"o1","x":2.17,"y":0.095},{"s":"o1","x":2.2,"y":0.088},{"s":"o1","x":2.23,"y":0.075},{"s":"o1","x":2.26,"y":0.066},{"s":"o1","x":2.29,"y":0.062},{"s":"o1","x":2.32,"y":0.058},{"s":"o1","x":2.35,"y":0.055},{"s":"o1","x":2.38,"y":0.052},{"s":"o1","x":2.41,"y":0.056},{"s":"o1","x":2.44,"y":0.053},{"s":"o1","x":2.47,"y":0.058},{"s":"o1","x":2.5,"y":0.057}
],
"br": [
{"s":"r","x":0.4,"y":0.029},{"s":"r","x":0.5,"y":0.025},{"s":"r","x":0.6,"y":0.018},{"s":"r","x":0.7,"y":0.012},{"s":"r","x":0.75,"y":0.011},{"s":"r","x":0.8,"y":0.015},{"s":"r","x":0.85,"y":0.028},{"s":"r","x":0.9,"y":0.042},{"s":"r","x":0.95,"y":0.053},{"s":"r","x":1.0,"y":0.06},{"s":"r","x":1.05,"y":0.065},{"s":"r","x":1.1,"y":0.068},{"s":"r","x":1.2,"y":0.07},{"s":"r","x":1.4,"y":0.07},{"s":"r","x":1.6,"y":0.07},{"s":"r","x":1.8,"y":0.07},{"s":"r","x":1.97,"y":0.072},{"s":"r","x":2.05,"y":0.078},{"s":"r","x":2.1,"y":0.085},{"s":"r","x":2.15,"y":0.093},{"s":"r","x":2.19,"y":0.096},{"s":"r","x":2.22,"y":0.08},{"s":"r","x":2.25,"y":0.061},{"s":"r","x":2.3,"y":0.043},{"s":"r","x":2.35,"y":0.042},{"s":"r","x":2.41,"y":0.045},{"s":"r","x":2.45,"y":0.049},{"s":"r","x":2.5,"y":0.053},
{"s":"rb","x":0.4,"y":0.01},{"s":"rb","x":0.45,"y":0.02},{"s":"rb","x":0.5,"y":0.035},{"s":"rb","x":0.55,"y":0.048},{"s":"rb","x":0.6,"y":0.056},{"s":"rb","x":0.64,"y":0.057},{"s":"rb","x":0.7,"y":0.052},{"s":"rb","x":0.75,"y":0.044},{"s":"rb","x":0.8,"y":0.037},{"s":"rb","x":0.85,"y":0.034},{"s":"rb","x":0.89,"y":0.034},{"s":"rb","x":0.95,"y":0.042},{"s":"rb","x":1.0,"y":0.055},{"s":"rb","x":1.05,"y":0.067},{"s":"rb","x":1.1,"y":0.077},{"s":"rb","x":1.15,"y":0.083},{"s":"rb","x":1.21,"y":0.085},{"s":"rb","x":1.27,"y":0.083},{"s":"rb","x":1.33,"y":0.078},{"s":"rb","x":1.4,"y":0.072},{"s":"rb","x":1.5,"y":0.064},{"s":"rb","x":1.58,"y":0.055},{"s":"rb","x":1.65,"y":0.04},{"s":"rb","x":1.72,"y":0.027},{"s":"rb","x":1.78,"y":0.02},{"s":"rb","x":1.85,"y":0.018},{"s":"rb","x":2.0,"y":0.016},{"s":"rb","x":2.2,"y":0.012},{"s":"rb","x":2.35,"y":0.007},{"s":"rb","x":2.5,"y":0.001},
{"s":"t","x":0.4,"y":0.051},{"s":"t","x":0.45,"y":0.052},{"s":"t","x":0.5,"y":0.051},{"s":"t","x":0.57,"y":0.051},{"s":"t","x":0.65,"y":0.052},{"s":"t","x":0.73,"y":0.053},{"s":"t","x":0.8,"y":0.056},{"s":"t","x":0.84,"y":0.059},{"s":"t","x":0.86,"y":0.051},{"s":"t","x":0.95,"y":0.05},{"s":"t","x":1.05,"y":0.049},{"s":"t","x":1.15,"y":0.05},{"s":"t","x":1.25,"y":0.052},{"s":"t","x":1.33,"y":0.054},{"s":"t","x":1.38,"y":0.059},{"s":"t","x":1.41,"y":0.048},{"s":"t","x":1.5,"y":0.045},{"s":"t","x":1.6,"y":0.043},{"s":"t","x":1.7,"y":0.042},{"s":"t","x":1.8,"y":0.04},{"s":"t","x":1.9,"y":0.037},{"s":"t","x":2.0,"y":0.034},{"s":"t","x":2.08,"y":0.03},{"s":"t","x":2.14,"y":0.03},{"s":"t","x":2.2,"y":0.034},{"s":"t","x":2.25,"y":0.041},{"s":"t","x":2.33,"y":0.046},{"s":"t","x":2.42,"y":0.049},{"s":"t","x":2.5,"y":0.052},
{"s":"g","x":0.4,"y":0.003},{"s":"g","x":0.41,"y":0.028},{"s":"g","x":0.5,"y":0.026},{"s":"g","x":0.6,"y":0.023},{"s":"g","x":0.7,"y":0.02},{"s":"g","x":0.8,"y":0.016},{"s":"g","x":0.9,"y":0.013},{"s":"g","x":0.95,"y":0.011},{"s":"g","x":0.97,"y":0.002},{"s":"g","x":0.99,"y":0.011},{"s":"g","x":1.05,"y":0.014},{"s":"g","x":1.15,"y":0.015},{"s":"g","x":1.25,"y":0.016},{"s":"g","x":1.35,"y":0.02},{"s":"g","x":1.45,"y":0.025},{"s":"g","x":1.55,"y":0.028},{"s":"g","x":1.65,"y":0.031},{"s":"g","x":1.75,"y":0.033},{"s":"g","x":1.81,"y":0.036},{"s":"g","x":1.87,"y":0.041},{"s":"g","x":1.94,"y":0.055},{"s":"g","x":2.0,"y":0.076},{"s":"g","x":2.06,"y":0.102},{"s":"g","x":2.13,"y":0.128},{"s":"g","x":2.19,"y":0.138},{"s":"g","x":2.25,"y":0.14},{"s":"g","x":2.3,"y":0.141},{"s":"g","x":2.34,"y":0.146},{"s":"g","x":2.38,"y":0.154},{"s":"g","x":2.43,"y":0.161},{"s":"g","x":2.47,"y":0.159},{"s":"g","x":2.5,"y":0.155},
{"s":"oA","x":0.4,"y":0.036},{"s":"oA","x":0.42,"y":0.042},{"s":"oA","x":0.44,"y":0.03},{"s":"oA","x":0.47,"y":0.018},{"s":"oA","x":0.5,"y":0.008},{"s":"oA","x":0.54,"y":0.003},{"s":"oA","x":0.6,"y":0.002},{"s":"oA","x":0.66,"y":0.003},{"s":"oA","x":0.7,"y":0.008},{"s":"oA","x":0.73,"y":0.018},{"s":"oA","x":0.76,"y":0.045},{"s":"oA","x":0.79,"y":0.085},{"s":"oA","x":0.82,"y":0.12},{"s":"oA","x":0.86,"y":0.141},{"s":"oA","x":0.9,"y":0.138},{"s":"oA","x":0.95,"y":0.122},{"s":"oA","x":0.99,"y":0.105},{"s":"oA","x":1.03,"y":0.08},{"s":"oA","x":1.07,"y":0.052},{"s":"oA","x":1.11,"y":0.028},{"s":"oA","x":1.15,"y":0.01},{"s":"oA","x":1.18,"y":0.002},{"s":"oA","x":1.21,"y":0.003},{"s":"oA","x":1.26,"y":0.01},{"s":"oA","x":1.32,"y":0.018},{"s":"oA","x":1.4,"y":0.025},{"s":"oA","x":1.5,"y":0.03},{"s":"oA","x":1.6,"y":0.032},{"s":"oA","x":1.7,"y":0.034},{"s":"oA","x":1.8,"y":0.036},{"s":"oA","x":1.9,"y":0.042},{"s":"oA","x":1.96,"y":0.05},{"s":"oA","x":2.01,"y":0.057},{"s":"oA","x":2.05,"y":0.055},{"s":"oA","x":2.1,"y":0.045},{"s":"oA","x":2.16,"y":0.04},{"s":"oA","x":2.22,"y":0.037},{"s":"oA","x":2.3,"y":0.033},{"s":"oA","x":2.36,"y":0.03},{"s":"oA","x":2.42,"y":0.036},{"s":"oA","x":2.46,"y":0.033},{"s":"oA","x":2.5,"y":0.03},
{"s":"oB","x":0.4,"y":0.045},{"s":"oB","x":0.45,"y":0.047},{"s":"oB","x":0.5,"y":0.048},{"s":"oB","x":0.55,"y":0.048},{"s":"oB","x":0.6,"y":0.05},{"s":"oB","x":0.65,"y":0.052},{"s":"oB","x":0.7,"y":0.055},{"s":"oB","x":0.74,"y":0.06},{"s":"oB","x":0.78,"y":0.072},{"s":"oB","x":0.82,"y":0.088},{"s":"oB","x":0.86,"y":0.1},{"s":"oB","x":0.91,"y":0.105},{"s":"oB","x":0.95,"y":0.1},{"s":"oB","x":0.99,"y":0.088},{"s":"oB","x":1.02,"y":0.07},{"s":"oB","x":1.05,"y":0.052},{"s":"oB","x":1.08,"y":0.04},{"s":"oB","x":1.12,"y":0.03},{"s":"oB","x":1.17,"y":0.022},{"s":"oB","x":1.22,"y":0.018},{"s":"oB","x":1.28,"y":0.013},{"s":"oB","x":1.33,"y":0.007},{"s":"oB","x":1.37,"y":0.002},{"s":"oB","x":1.41,"y":0.004},{"s":"oB","x":1.44,"y":0.03},{"s":"oB","x":1.48,"y":0.042},{"s":"oB","x":1.55,"y":0.042},{"s":"oB","x":1.65,"y":0.04},{"s":"oB","x":1.75,"y":0.039},{"s":"oB","x":1.85,"y":0.041},{"s":"oB","x":1.92,"y":0.045},{"s":"oB","x":1.97,"y":0.05},{"s":"oB","x":2.0,"y":0.053},{"s":"oB","x":2.05,"y":0.083},{"s":"oB","x":2.08,"y":0.115},{"s":"oB","x":2.11,"y":0.149},{"s":"oB","x":2.14,"y":0.139},{"s":"oB","x":2.17,"y":0.102},{"s":"oB","x":2.22,"y":0.064},{"s":"oB","x":2.25,"y":0.045},{"s":"oB","x":2.3,"y":0.019},{"s":"oB","x":2.35,"y":0.002},{"s":"oB","x":2.4,"y":0.019},{"s":"oB","x":2.44,"y":0.032},{"s":"oB","x":2.5,"y":0.032},
{"s":"i","x":0.4,"y":0.047},{"s":"i","x":0.44,"y":0.062},{"s":"i","x":0.48,"y":0.07},{"s":"i","x":0.52,"y":0.072},{"s":"i","x":0.56,"y":0.068},{"s":"i","x":0.6,"y":0.061},{"s":"i","x":0.64,"y":0.05},{"s":"i","x":0.68,"y":0.038},{"s":"i","x":0.72,"y":0.026},{"s":"i","x":0.76,"y":0.015},{"s":"i","x":0.8,"y":0.006},{"s":"i","x":0.84,"y":0.001},{"s":"i","x":0.88,"y":0.0},{"s":"i","x":0.93,"y":0.002},{"s":"i","x":0.98,"y":0.008},{"s":"i","x":1.02,"y":0.014},{"s":"i","x":1.06,"y":0.022},{"s":"i","x":1.1,"y":0.032},{"s":"i","x":1.14,"y":0.041},{"s":"i","x":1.18,"y":0.043},{"s":"i","x":1.23,"y":0.042},{"s":"i","x":1.3,"y":0.044},{"s":"i","x":1.38,"y":0.047},{"s":"i","x":1.46,"y":0.05},{"s":"i","x":1.54,"y":0.053},{"s":"i","x":1.62,"y":0.055},{"s":"i","x":1.7,"y":0.057},{"s":"i","x":1.78,"y":0.059},{"s":"i","x":1.86,"y":0.061},{"s":"i","x":1.94,"y":0.062},{"s":"i","x":1.98,"y":0.06},{"s":"i","x":2.02,"y":0.055},{"s":"i","x":2.06,"y":0.049},{"s":"i","x":2.1,"y":0.044},{"s":"i","x":2.14,"y":0.04},{"s":"i","x":2.18,"y":0.043},{"s":"i","x":2.22,"y":0.05},{"s":"i","x":2.26,"y":0.058},{"s":"i","x":2.3,"y":0.067},{"s":"i","x":2.34,"y":0.08},{"s":"i","x":2.38,"y":0.098},{"s":"i","x":2.42,"y":0.108},{"s":"i","x":2.45,"y":0.095},{"s":"i","x":2.48,"y":0.072},{"s":"i","x":2.5,"y":0.062},
{"s":"m","x":0.4,"y":0.0},{"s":"m","x":0.44,"y":0.002},{"s":"m","x":0.47,"y":0.01},{"s":"m","x":0.5,"y":0.03},{"s":"m","x":0.53,"y":0.048},{"s":"m","x":0.57,"y":0.052},{"s":"m","x":0.62,"y":0.053},{"s":"m","x":0.67,"y":0.054},{"s":"m","x":0.71,"y":0.055},{"s":"m","x":0.74,"y":0.05},{"s":"m","x":0.77,"y":0.04},{"s":"m","x":0.8,"y":0.03},{"s":"m","x":0.84,"y":0.02},{"s":"m","x":0.88,"y":0.013},{"s":"m","x":0.93,"y":0.007},{"s":"m","x":0.98,"y":0.004},{"s":"m","x":1.05,"y":0.002},{"s":"m","x":1.15,"y":0.002},{"s":"m","x":1.22,"y":0.003},{"s":"m","x":1.3,"y":0.006},{"s":"m","x":1.36,"y":0.011},{"s":"m","x":1.42,"y":0.018},{"s":"m","x":1.47,"y":0.027},{"s":"m","x":1.52,"y":0.04},{"s":"m","x":1.56,"y":0.06},{"s":"m","x":1.6,"y":0.082},{"s":"m","x":1.64,"y":0.098},{"s":"m","x":1.68,"y":0.108},{"s":"m","x":1.72,"y":0.112},{"s":"m","x":1.75,"y":0.113},{"s":"m","x":1.79,"y":0.111},{"s":"m","x":1.84,"y":0.104},{"s":"m","x":1.9,"y":0.092},{"s":"m","x":1.97,"y":0.079},{"s":"m","x":2.03,"y":0.067},{"s":"m","x":2.09,"y":0.057},{"s":"m","x":2.15,"y":0.05},{"s":"m","x":2.22,"y":0.045},{"s":"m","x":2.28,"y":0.041},{"s":"m","x":2.33,"y":0.037},{"s":"m","x":2.36,"y":0.027},{"s":"m","x":2.38,"y":0.012},{"s":"m","x":2.4,"y":0.002},{"s":"m","x":2.43,"y":0.007},{"s":"m","x":2.46,"y":0.014},{"s":"m","x":2.5,"y":0.019}
]
},
"concat": [
{
"data": {"name": "tl"},
"width": 237, "height": 154,
"title": {"text": "Signals recovered using Vectors", "offset": 0},
"mark": {"type": "line", "strokeWidth": 1.8, "clip": true},
"encoding": {
"x": {"field": "x", "type": "quantitative", "scale": {"domain": [0.295, 2.605], "nice": false, "zero": false}, "axis": {"values": [0.5, 1.0, 1.5, 2.0, 2.5], "format": ".1f", "title": "Wavelength (µm)"}},
"y": {"field": "y", "type": "quantitative", "scale": {"domain": [-0.0027, 0.102], "nice": false, "zero": false}, "axis": {"values": [0, 0.05, 0.1], "format": ".2f", "title": "Reflectance"}},
"color": {"field": "s", "type": "nominal", "legend": null, "scale": {"domain": ["o","t","r","i","m","g","rb","o1","o2","oA","oB"], "range": ["#ff8c00","#d2b48c","#cd5c5c","#4b0082","#da70d6","#a9a9a9","#bc8f8f","#ff8c00","#ff8c00","#ff8c00","#ff8c00"]}},
"strokeDash": {"field": "s", "type": "nominal", "legend": null, "scale": {"domain": ["o","t","r","i","m","g","rb","o1","o2","oA","oB"], "range": [[7.5,3.2],[12.5,3.2,2,3.2],[2,3.3],[7.5,3.2],[1,0],[12.5,3.2,2,3.2],[2,3.3],[7.5,3.2],[7.5,3.2],[7.5,3.2],[7.5,3.2]]}}
}
},
{
"data": {"name": "tr"},
"width": 243, "height": 158,
"title": {"text": "Signals recovered using R-NLS", "offset": 2},
"mark": {"type": "line", "strokeWidth": 2, "interpolate": "monotone", "clip": true},
"encoding": {
"x": {"field": "x", "type": "quantitative", "scale": {"domain": [0.295, 2.605], "nice": false, "zero": false}, "axis": {"values": [0.5, 1.0, 1.5, 2.0, 2.5], "format": ".1f", "title": "Wavelength (µm)"}},
"y": {"field": "y", "type": "quantitative", "scale": {"domain": [-0.0063, 0.1175], "nice": false, "zero": false}, "axis": {"values": [0, 0.05, 0.1], "format": ".2f", "title": "Reflectance"}},
"color": {"field": "s", "type": "nominal", "legend": null, "scale": {"domain": ["o","t","r","i","m","g","rb","o1","o2","oA","oB"], "range": ["#ff8c00","#d2b48c","#cd5c5c","#4b0082","#da70d6","#a9a9a9","#bc8f8f","#ff8c00","#ff8c00","#ff8c00","#ff8c00"]}},
"strokeDash": {"field": "s", "type": "nominal", "legend": null, "scale": {"domain": ["o","t","r","i","m","g","rb","o1","o2","oA","oB"], "range": [[7.5,3.2],[12.5,3.2,2,3.2],[2,3.3],[7.5,3.2],[1,0],[12.5,3.2,2,3.2],[2,3.3],[7.5,3.2],[7.5,3.2],[7.5,3.2],[7.5,3.2]]}}
}
},
{
"data": {"name": "bl"},
"width": 237, "height": 155,
"title": {"text": "Signals recovered using Vectors", "offset": 0},
"mark": {"type": "line", "strokeWidth": 1.8, "clip": true},
"encoding": {
"x": {"field": "x", "type": "quantitative", "scale": {"domain": [0.295, 2.605], "nice": false, "zero": false}, "axis": {"values": [0.5, 1.0, 1.5, 2.0, 2.5], "format": ".1f", "title": "Wavelength (µm)"}},
"y": {"field": "y", "type": "quantitative", "scale": {"domain": [-0.0045, 0.1339], "nice": false, "zero": false}, "axis": {"values": [0, 0.05, 0.1], "format": ".2f", "title": "Reflectance"}},
"color": {"field": "s", "type": "nominal", "legend": null, "scale": {"domain": ["o","t","r","i","m","g","rb","o1","o2","oA","oB"], "range": ["#ff8c00","#d2b48c","#cd5c5c","#4b0082","#da70d6","#a9a9a9","#bc8f8f","#ff8c00","#ff8c00","#ff8c00","#ff8c00"]}},
"strokeDash": {"field": "s", "type": "nominal", "legend": null, "scale": {"domain": ["o","t","r","i","m","g","rb","o1","o2","oA","oB"], "range": [[7.5,3.2],[12.5,3.2,2,3.2],[2,3.3],[7.5,3.2],[1,0],[12.5,3.2,2,3.2],[2,3.3],[7.5,3.2],[7.5,3.2],[7.5,3.2],[7.5,3.2]]}}
}
},
{
"data": {"name": "br"},
"width": 243, "height": 158,
"title": {"text": "Signals recovered using R-NLS", "offset": 2},
"mark": {"type": "line", "strokeWidth": 2, "interpolate": "monotone", "clip": true},
"encoding": {
"x": {"field": "x", "type": "quantitative", "scale": {"domain": [0.295, 2.605], "nice": false, "zero": false}, "axis": {"values": [0.5, 1.0, 1.5, 2.0, 2.5], "format": ".1f", "title": "Wavelength (µm)"}},
"y": {"field": "y", "type": "quantitative", "scale": {"domain": [-0.0068, 0.1714], "nice": false, "zero": false}, "axis": {"values": [0, 0.05, 0.1, 0.15], "format": ".2f", "title": "Reflectance"}},
"color": {"field": "s", "type": "nominal", "legend": null, "scale": {"domain": ["o","t","r","i","m","g","rb","o1","o2","oA","oB"], "range": ["#ff8c00","#d2b48c","#cd5c5c","#4b0082","#da70d6","#a9a9a9","#bc8f8f","#ff8c00","#ff8c00","#ff8c00","#ff8c00"]}},
"strokeDash": {"field": "s", "type": "nominal", "legend": null, "scale": {"domain": ["o","t","r","i","m","g","rb","o1","o2","oA","oB"], "range": [[7.5,3.2],[12.5,3.2,2,3.2],[2,3.3],[7.5,3.2],[1,0],[12.5,3.2,2,3.2],[2,3.3],[7.5,3.2],[7.5,3.2],[7.5,3.2],[7.5,3.2]]}}
}
}
]
}
